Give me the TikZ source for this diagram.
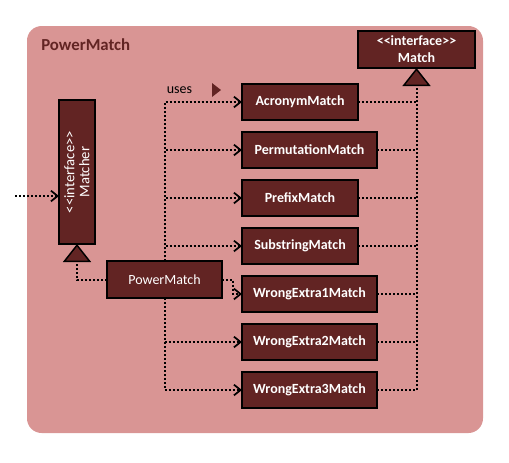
\documentclass[tikz,border=0pt]{standalone}
\usepackage{fontspec}
\setmainfont{Carlito}
\usepackage{tikz}
\usetikzlibrary{positioning}
\usetikzlibrary{arrows.meta}

\definecolor{bgpink}{HTML}{D99594}
\definecolor{boxred}{HTML}{622423}

\begin{document}
\begin{tikzpicture}[x=0.75pt, y=-0.75pt,
    cls/.style={draw=black, line width=1.1pt, fill=boxred, text=white, font=\fontsize{10.5}{12.75}\selectfont\bfseries, minimum height=27pt, inner sep=2pt, outer sep=0pt},
    short/.style={cls, minimum width=87pt},
    long/.style={cls, minimum width=101.25pt},
    link/.style={line width=1.5pt, dash pattern=on 1.5pt off 1.5pt},
    uses/.style={link, -{Straight Barb[length=5pt, width=8pt, line width=1.3pt]}},
    impl/.style={link, -{Triangle[length=13.5pt, width=21pt, fill=boxred, line width=1.1pt]}}]

    \useasboundingbox (0,0) rectangle (509,462);
    \fill[bgpink, rounded corners=11pt] (27,26) rectangle (483,433);

    \node[anchor=west, inner sep=0pt, text=boxred, font=\fontsize{12.6}{14}\selectfont\bfseries] (title) at (41,45) {PowerMatch};

    \node[cls, minimum width=87.75pt, minimum height=27.75pt, align=center] (match) at (416.5,49.5) {{<}{<}interface{>}{>}\\Match};
    \node[cls, font=\fontsize{11}{11.25}\selectfont, rotate=90, minimum width=108pt, minimum height=27pt, align=center] (matcher) at (77,172) {{<}{<}interface{>}{>}\\Matcher};

    \node[short, anchor=west] (acr) at (242,102) {AcronymMatch};
    \node[long, below=9pt of acr.south west, anchor=north west] (perm) {PermutationMatch};
    \node[short, below=9pt of perm.south west, anchor=north west] (prefix) {PrefixMatch};
    \node[short, below=9pt of prefix.south west, anchor=north west] (sub) {SubstringMatch};
    \node[long, below=9pt of sub.south west, anchor=north west] (we1) {WrongExtra1Match};
    \node[long, below=9pt of we1.south west, anchor=north west] (we2) {WrongExtra2Match};
    \node[long, below=9pt of we2.south west, anchor=north west] (we3) {WrongExtra3Match};

    \node[cls, font=\fontsize{10.5}{12.75}\selectfont, minimum width=86.25pt, minimum height=27.75pt] (pm) at (164.5,279.5) {PowerMatch};

    \node[font=\fontsize{10.5}{12}\selectfont] (useslbl) at (179.5,90) {uses};
    \fill[boxred] (212,83) -- (221,90) -- (212,97) -- cycle;

    \coordinate (in) at (15,196);
    \draw[uses] (in) -- (in -| matcher.north);
    \draw[impl] (pm.west) -| (matcher.west);

    \draw[uses] (pm.north) |- (acr.west);
    \draw[uses] (pm.north) |- (perm.west);
    \draw[uses] (pm.north) |- (prefix.west);
    \draw[uses] (pm.north) |- (sub.west);
    \draw[uses] (pm.east) -- ++(11,0) |- (we1.west);
    \draw[uses] (pm.south) |- (we2.west);
    \draw[uses] (pm.south) |- (we3.west);

    \draw[link] (acr.east) -- (acr.east -| match.south);
    \draw[link] (perm.east) -- (perm.east -| match.south);
    \draw[link] (prefix.east) -- (prefix.east -| match.south);
    \draw[link] (sub.east) -- (sub.east -| match.south);
    \draw[link] (we1.east) -- (we1.east -| match.south);
    \draw[link] (we2.east) -- (we2.east -| match.south);
    \draw[impl] (we3.east) -| (match.south);

\end{tikzpicture}
\end{document}
